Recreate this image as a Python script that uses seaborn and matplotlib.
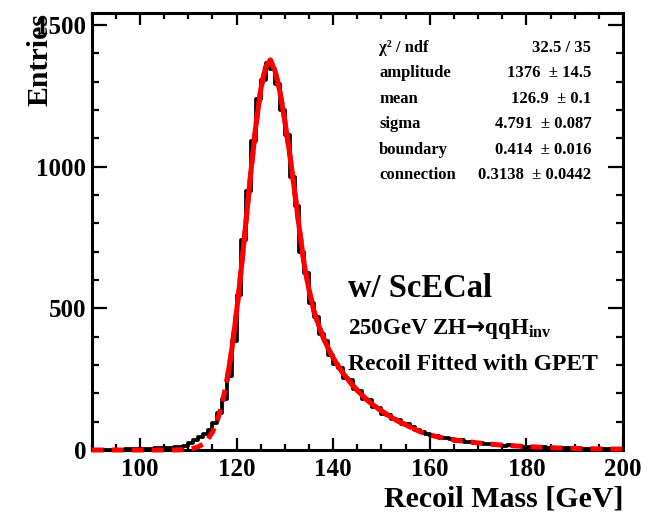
import numpy as np
import pandas as pd
import seaborn as sns
import matplotlib.pyplot as plt
from matplotlib.ticker import MultipleLocator

# Recoil mass histogram, 1 GeV bins from 90 to 200 GeV
bin_edges = np.arange(90, 201, 1)
counts = [
    0, 0, 0, 1, 0, 1, 1, 2, 2, 3,                              # 90-99
    3, 4, 5, 6, 6, 7, 8, 9, 10, 14,                            # 100-109
    24, 34, 46, 58, 70, 95, 130, 180, 262, 385,                # 110-119
    548, 740, 915, 1090, 1240, 1305, 1365, 1345, 1290, 1200,   # 120-129
    1110, 965, 860, 700, 625, 520, 470, 410, 385, 335,         # 130-139
    305, 290, 255, 246, 215, 208, 180, 176, 150, 148,          # 140-149
    128, 125, 108, 105, 90, 92, 80, 72, 63, 58,                # 150-159
    50, 49, 41, 42, 38, 33, 34, 28, 29, 25,                    # 160-169
    26, 22, 20, 19, 18, 15, 16, 14, 13, 12,                    # 170-179
    12, 10, 11, 9, 8, 8, 7, 6, 6, 6,                           # 180-189
    5, 5, 4, 5, 4, 3, 4, 3, 3, 2,                              # 190-199
]

# GPET fit function, one point per GeV
fit_x = list(range(90, 201))
fit_y = [
    0, 0, 0, 0, 0, 0, 0, 0, 0, 0,                              # 90-99
    0, 0, 0, 0, 0, 0, 0.1, 0.2, 0.5, 1.2,                      # 100-109
    2.7, 5.6, 11, 20, 37, 63, 103, 163, 245, 353,              # 110-119
    488, 645, 816, 988, 1146, 1272, 1352, 1376, 1335, 1262,    # 120-129
    1160, 1045, 915, 780, 655, 565, 490, 440, 395, 357,        # 130-139
    325, 297, 272, 250, 229, 210, 193, 177, 163, 150,          # 140-149
    138, 126, 116, 106, 97, 89, 80, 72, 65, 58,                # 150-159
    53, 49, 45, 42, 39, 36, 33, 31, 29, 27,                    # 160-169
    25, 23, 21.5, 20, 18.5, 17, 16, 15, 14, 13,                # 170-179
    12, 11.2, 10.5, 9.7, 9, 8.2, 7.5, 7, 6.5, 6,               # 180-189
    5.5, 5.1, 4.8, 4.5, 4.2, 3.9, 3.7, 3.5, 3.3, 3.1,          # 190-199
    3,                                                         # 200
]
fit_lo, fit_hi = 118, 156

stat_names = ["χ² / ndf", "amplitude", "mean", "sigma", "boundary", "connection"]
stat_values = ["32.5 / 35", "1376  ± 14.5", "126.9  ± 0.1", "4.791  ± 0.087",
               "0.414  ± 0.016", "0.3138  ± 0.0442"]

sns.set_theme(style="ticks")
plt.rcParams["font.family"] = ["Liberation Serif", "DejaVu Serif"]
plt.rcParams["font.weight"] = "bold"
plt.rcParams["mathtext.fontset"] = "custom"
plt.rcParams["mathtext.rm"] = "Liberation Serif:bold"
plt.rcParams["mathtext.sf"] = "DejaVu Sans"
plt.rcParams["mathtext.default"] = "rm"
for key in ["text.color", "axes.edgecolor", "axes.labelcolor", "xtick.color", "ytick.color"]:
    plt.rcParams[key] = "black"

fig = plt.figure(figsize=(6.62, 5.17), dpi=100)
ax = fig.add_axes([0.1385, 0.1296, 0.8026, 0.8458])

hist_df = pd.DataFrame({"mass": (bin_edges[:-1] + bin_edges[1:]) / 2, "n": counts})
sns.histplot(data=hist_df, x="mass", weights="n", binwidth=1,
             binrange=(bin_edges[0], bin_edges[-1]), element="step",
             fill=False, color="black", linewidth=2.7, ax=ax)

fit_df = pd.DataFrame({"x": fit_x, "y": fit_y})
in_range = fit_df[(fit_df["x"] >= fit_lo) & (fit_df["x"] <= fit_hi)]
# dashed over the full range, solid where the fit was done
sns.lineplot(data=fit_df, x="x", y="y", color="red", linewidth=3.6,
             linestyle=(0, (2.4, 1.6)), clip_on=False, zorder=3, ax=ax)
sns.lineplot(data=in_range, x="x", y="y", color="red", linewidth=3.6,
             clip_on=False, zorder=3, ax=ax)

ax.set_xlim(90, 200)
ax.set_ylim(0, 1543)
ax.xaxis.set_major_locator(MultipleLocator(20))
ax.xaxis.set_minor_locator(MultipleLocator(5))
ax.yaxis.set_major_locator(MultipleLocator(500))
ax.yaxis.set_minor_locator(MultipleLocator(100))
ax.tick_params(which="both", direction="in", top=True, right=True, width=1.6,
               labelsize=18)
ax.tick_params(axis="x", which="major", length=8.6, pad=6)
ax.tick_params(axis="x", which="minor", length=4.3)
ax.tick_params(axis="y", which="major", length=10.8, pad=4)
ax.tick_params(axis="y", which="minor", length=5.2)
for sp in ax.spines.values():
    sp.set_linewidth(2.2)

ax.set_xlabel("Recoil Mass [GeV]", fontsize=21.5, fontweight="bold", loc="right")
ax.xaxis.label.set_va("baseline")
ax.xaxis.set_label_coords(1.0, -0.130)
ax.set_ylabel("Entries", fontsize=21.5, fontweight="bold", loc="top")
ax.yaxis.label.set_va("baseline")
ax.yaxis.set_label_coords(-0.084, 1.0)

# fit statistics box (no frame, as in ROOT style)
for i, (name, val) in enumerate(zip(stat_names, stat_values)):
    y = 0.9108 - i * 0.0583
    ax.text(0.541, y, name, transform=ax.transAxes, fontsize=12, ha="left", va="baseline")
    ax.text(0.940, y, val, transform=ax.transAxes, fontsize=12, ha="right", va="baseline")

ax.text(0.4824, 0.350, "w/ ScECal", transform=ax.transAxes, fontsize=23.5, va="baseline")
ax.text(0.4824, 0.265, r"250GeV ZH$\mathsf{→}$qqH$_{\rm inv}$", transform=ax.transAxes,
        fontsize=16.5, va="baseline")
ax.text(0.4824, 0.183, "Recoil Fitted with GPET", transform=ax.transAxes,
        fontsize=17, va="baseline")

fig.savefig("out.png", dpi=100)
